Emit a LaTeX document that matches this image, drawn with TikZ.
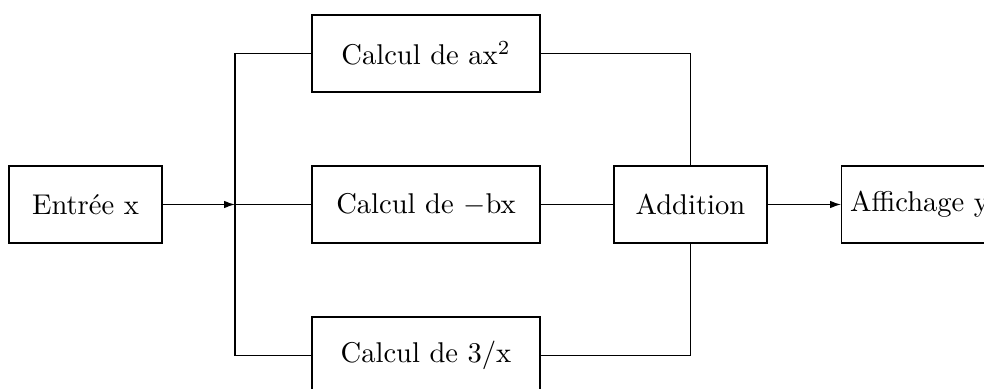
\documentclass[tikz,border=0pt]{standalone}
\usetikzlibrary{arrows.meta}
\begin{document}
\begin{tikzpicture}[x=0.35pt,y=-0.35pt,
  wide/.style={draw, line width=0.4pt, minimum width=79.8pt, minimum height=26.95pt, inner sep=0pt},
  narrow/.style={draw, line width=0.4pt, minimum width=53.55pt, minimum height=26.95pt, inner sep=0pt},
  plain/.style={draw, line width=0.4pt, minimum height=26.95pt, inner sep=3pt},
  link/.style={line width=0.4pt},
  flow/.style={line width=0.4pt, -{Latex[length=3.8pt,width=2.6pt]}}]
  \useasboundingbox (0,0) rectangle (984,389);
  \clip (0,0) rectangle (984,389);

  % blocks
  \node[narrow] (in)  at (85.5,204.5)  {Entrée x};
  \node[wide]   (top) at (426,53.5)    {Calcul de ax$^2$};
  \node[wide]   (mid) at (426,204.5)   {Calcul de $-$bx};
  \node[wide]   (bot) at (426,355.5)   {Calcul de 3/x};
  \node[narrow] (add) at (690.5,204.5) {Addition};
  \node[plain, anchor=west] (out) at (841,204.5) {Affichage y};
  \coordinate (split) at (235,204.5);

  % input to the three branches
  \draw[flow] (in) -- (split);
  \draw[link] (split) -- (mid);
  \draw[link] (top.west) -| (split) |- (bot.west);

  % branches into the sum
  \draw[link] (top.east) -| (add.north);
  \draw[link] (mid) -- (add);
  \draw[link] (bot.east) -| (add.south);

  % output
  \draw[flow] (add) -- (out);
\end{tikzpicture}
\end{document}
